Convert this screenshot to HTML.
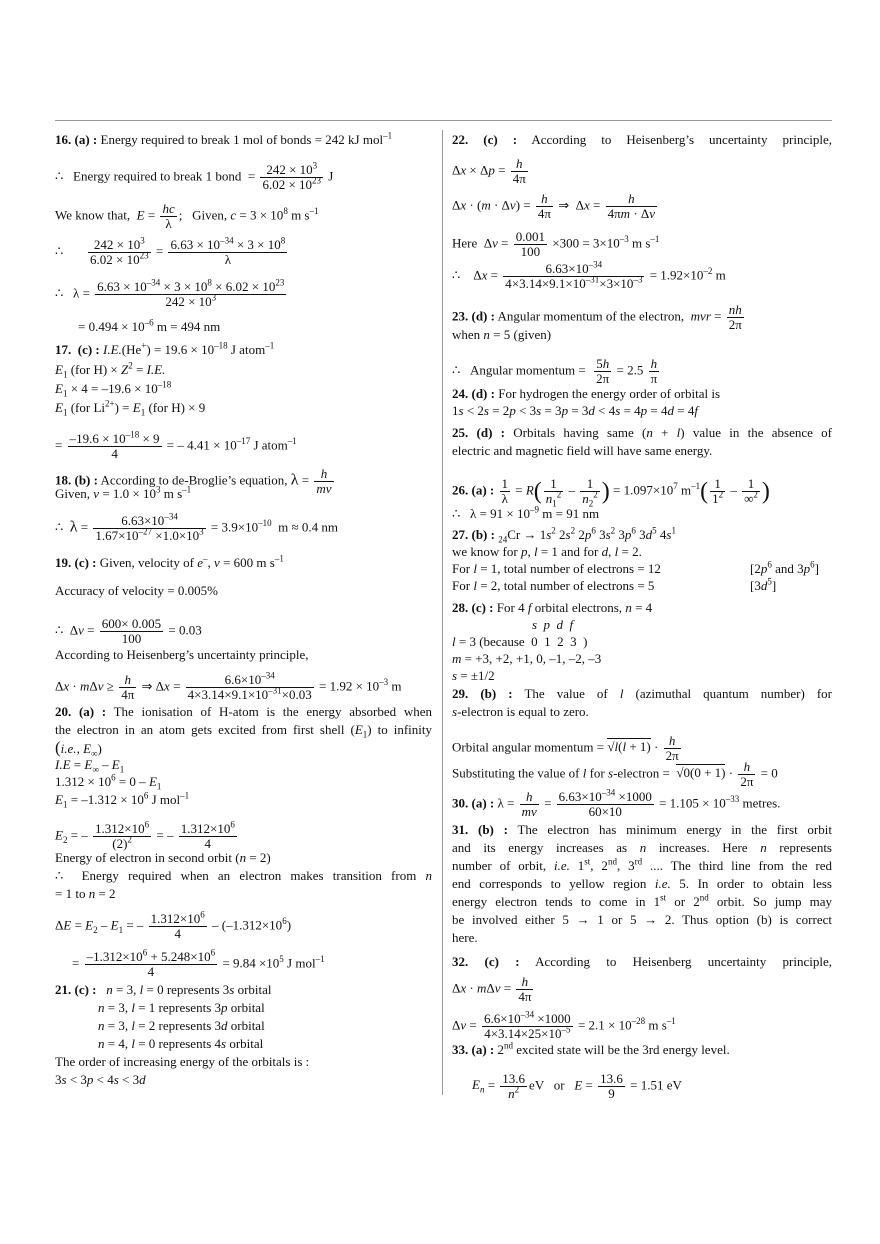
<!DOCTYPE html>
<html><head><meta charset="utf-8">
<style>
body{margin:0;width:880px;height:1244px;background:#fff;position:relative;font-family:"Liberation Serif",serif;font-size:13px;color:#111;overflow:hidden}
.l{position:absolute;white-space:nowrap;line-height:16px}
.j{white-space:normal;text-align:justify;text-align-last:justify}
.f{display:inline-flex;flex-direction:column;vertical-align:middle;text-align:center;margin:0 2px}
.f>span:first-child{border-bottom:1px solid #111;padding:0 2px;line-height:14px}
.f>span:last-child{padding:0 2px;line-height:14px}
sup,sub{font-size:9px;line-height:0}
i{font-style:italic}
b{font-weight:bold}
</style></head><body>
<div style="position:absolute;left:55px;top:120px;width:777px;height:1px;background:#999"></div>
<div style="position:absolute;left:442px;top:130px;width:1px;height:965px;background:#999"></div>

<!-- LEFT -->
<div class="l" style="left:55px;top:132px"><b>16. (a) :</b> Energy required to break 1 mol of bonds = 242 kJ mol<sup>–1</sup></div>
<div class="l" style="left:55px;top:163px">∴ &nbsp;&nbsp;Energy required to break 1 bond &nbsp;= <span class="f"><span>242 × 10<sup>3</sup></span><span>6.02 × 10<sup>23</sup></span></span> J</div>
<div class="l" style="left:55px;top:202px">We know that, &nbsp;<i>E</i> = <span class="f"><span><i>hc</i></span><span>λ</span></span>; &nbsp;&nbsp;Given, <i>c</i> = 3 × 10<sup>8</sup> m s<sup>–1</sup></div>
<div class="l" style="left:55px;top:238px">∴ &nbsp;&nbsp;&nbsp;&nbsp;&nbsp;&nbsp;<span class="f"><span>242 × 10<sup>3</sup></span><span>6.02 × 10<sup>23</sup></span></span> = <span class="f"><span>6.63 × 10<sup>–34</sup> × 3 × 10<sup>8</sup></span><span>λ</span></span></div>
<div class="l" style="left:55px;top:280px">∴ &nbsp;&nbsp;λ = <span class="f"><span>6.63 × 10<sup>–34</sup> × 3 × 10<sup>8</sup> × 6.02 × 10<sup>23</sup></span><span>242 × 10<sup>3</sup></span></span></div>
<div class="l" style="left:78px;top:319px">= 0.494 × 10<sup>–6</sup> m = 494 nm</div>
<div class="l" style="left:55px;top:342px"><b>17. &nbsp;(c) :</b> <i>I.E.</i>(He<sup>+</sup>) = 19.6 × 10<sup>–18</sup> J atom<sup>–1</sup></div>
<div class="l" style="left:55px;top:362px"><i>E</i><sub>1</sub> (for H) × <i>Z</i><sup>2</sup> = <i>I.E.</i></div>
<div class="l" style="left:55px;top:381px"><i>E</i><sub>1</sub> × 4 = –19.6 × 10<sup>–18</sup></div>
<div class="l" style="left:55px;top:400px"><i>E</i><sub>1</sub> (for Li<sup>2+</sup>) = <i>E</i><sub>1</sub> (for H) × 9</div>
<div class="l" style="left:55px;top:432px">= <span class="f"><span>–19.6 × 10<sup>–18</sup> × 9</span><span>4</span></span> = – 4.41 × 10<sup>–17</sup> J atom<sup>–1</sup></div>
<div class="l" style="left:55px;top:467px"><b>18. (b) :</b> According to de-Broglie’s equation, <span style="font-size:16px">λ</span> = <span class="f"><span><i>h</i></span><span><i>mv</i></span></span></div>
<div class="l" style="left:55px;top:486px">Given, <i>v</i> = 1.0 × 10<sup>3</sup> m s<sup>–1</sup></div>
<div class="l" style="left:55px;top:514px">∴ &nbsp;<span style="font-size:16px">λ</span> = <span class="f"><span>6.63×10<sup>–34</sup></span><span>1.67×10<sup>–27</sup> ×1.0×10<sup>3</sup></span></span> = 3.9×10<sup>–10</sup> &nbsp;m ≈ 0.4 nm</div>
<div class="l" style="left:55px;top:555px"><b>19. (c) :</b> Given, velocity of <i>e</i><sup>–</sup>, <i>v</i> = 600 m s<sup>–1</sup></div>
<div class="l" style="left:55px;top:583px">Accuracy of velocity = 0.005%</div>
<div class="l" style="left:55px;top:617px">∴ &nbsp;Δ<i>v</i> = <span class="f"><span>600× 0.005</span><span>100</span></span> = 0.03</div>
<div class="l" style="left:55px;top:647px">According to Heisenberg’s uncertainty principle,</div>
<div class="l" style="left:55px;top:673px">Δ<i>x</i> · <i>m</i>Δ<i>v</i> ≥ <span class="f"><span><i>h</i></span><span>4π</span></span> ⇒ Δ<i>x</i> = <span class="f"><span>6.6×10<sup>–34</sup></span><span>4×3.14×9.1×10<sup>–31</sup>×0.03</span></span> = 1.92 × 10<sup>–3</sup> m</div>
<div class="l j" style="left:55px;top:704px;width:377px"><b>20. (a) :</b> The ionisation of H-atom is the energy absorbed when</div>
<div class="l j" style="left:55px;top:722px;width:377px">the electron in an atom gets excited from first shell (<i>E</i><sub>1</sub>) to infinity</div>
<div class="l" style="left:55px;top:740px"><span style="font-size:17px">(</span><i>i.e.</i>, <i>E</i><sub>∞</sub>)</div>
<div class="l" style="left:55px;top:757px"><i>I.E</i> = <i>E</i><sub>∞</sub> – <i>E</i><sub>1</sub></div>
<div class="l" style="left:55px;top:774px">1.312 × 10<sup>6</sup> = 0 – <i>E</i><sub>1</sub></div>
<div class="l" style="left:55px;top:792px"><i>E</i><sub>1</sub> = –1.312 × 10<sup>6</sup> J mol<sup>–1</sup></div>
<div class="l" style="left:55px;top:822px"><i>E</i><sub>2</sub> = – <span class="f"><span>1.312×10<sup>6</sup></span><span>(2)<sup>2</sup></span></span> = – <span class="f"><span>1.312×10<sup>6</sup></span><span>4</span></span></div>
<div class="l" style="left:55px;top:850px">Energy of electron in second orbit (<i>n</i> = 2)</div>
<div class="l j" style="left:55px;top:868px;width:377px">∴ &nbsp;Energy required when an electron makes transition from <i>n</i></div>
<div class="l" style="left:55px;top:886px">= 1 to <i>n</i> = 2</div>
<div class="l" style="left:55px;top:912px">Δ<i>E</i> = <i>E</i><sub>2</sub> – <i>E</i><sub>1</sub> = – <span class="f"><span>1.312×10<sup>6</sup></span><span>4</span></span> – (–1.312×10<sup>6</sup>)</div>
<div class="l" style="left:72px;top:950px">= <span class="f"><span>–1.312×10<sup>6</sup> + 5.248×10<sup>6</sup></span><span>4</span></span> = 9.84 ×10<sup>5</sup> J mol<sup>–1</sup></div>
<div class="l" style="left:55px;top:982px"><b>21. (c) :</b> &nbsp;&nbsp;<i>n</i> = 3, <i>l</i> = 0 represents 3<i>s</i> orbital</div>
<div class="l" style="left:98px;top:1000px"><i>n</i> = 3, <i>l</i> = 1 represents 3<i>p</i> orbital</div>
<div class="l" style="left:98px;top:1018px"><i>n</i> = 3, <i>l</i> = 2 represents 3<i>d</i> orbital</div>
<div class="l" style="left:98px;top:1036px"><i>n</i> = 4, <i>l</i> = 0 represents 4<i>s</i> orbital</div>
<div class="l" style="left:55px;top:1054px">The order of increasing energy of the orbitals is :</div>
<div class="l" style="left:55px;top:1072px">3<i>s</i> &lt; 3<i>p</i> &lt; 4<i>s</i> &lt; 3<i>d</i></div>

<!-- RIGHT -->
<div class="l j" style="left:452px;top:132px;width:380px"><b>22. (c) :</b> According to Heisenberg’s uncertainty principle,</div>
<div class="l" style="left:452px;top:157px">Δ<i>x</i> × Δ<i>p</i> = <span class="f"><span><i>h</i></span><span>4π</span></span></div>
<div class="l" style="left:452px;top:192px">Δ<i>x</i> · (<i>m</i> · Δ<i>v</i>) = <span class="f"><span><i>h</i></span><span>4π</span></span> ⇒ &nbsp;Δ<i>x</i> = <span class="f"><span><i>h</i></span><span>4π<i>m</i> · Δ<i>v</i></span></span></div>
<div class="l" style="left:452px;top:230px">Here &nbsp;Δ<i>v</i> = <span class="f"><span>0.001</span><span>100</span></span> ×300 = 3×10<sup>–3</sup> m s<sup>–1</sup></div>
<div class="l" style="left:452px;top:262px">∴ &nbsp;&nbsp;&nbsp;Δ<i>x</i> = <span class="f"><span>6.63×10<sup>–34</sup></span><span>4×3.14×9.1×10<sup>–31</sup>×3×10<sup>–3</sup></span></span> = 1.92×10<sup>–2</sup> m</div>
<div class="l" style="left:452px;top:303px"><b>23. (d) :</b> Angular momentum of the electron, &nbsp;<i>mvr</i> = <span class="f"><span><i>nh</i></span><span>2π</span></span></div>
<div class="l" style="left:452px;top:327px">when <i>n</i> = 5 (given)</div>
<div class="l" style="left:452px;top:357px">∴ &nbsp;&nbsp;Angular momentum = &nbsp;<span class="f"><span>5<i>h</i></span><span>2π</span></span> = 2.5 <span class="f"><span><i>h</i></span><span>π</span></span></div>
<div class="l" style="left:452px;top:386px"><b>24. (d) :</b> For hydrogen the energy order of orbital is</div>
<div class="l" style="left:452px;top:403px">1<i>s</i> &lt; 2<i>s</i> = 2<i>p</i> &lt; 3<i>s</i> = 3<i>p</i> = 3<i>d</i> &lt; 4<i>s</i> = 4<i>p</i> = 4<i>d</i> = 4<i>f</i></div>
<div class="l j" style="left:452px;top:425px;width:380px"><b>25. (d) :</b> Orbitals having same (<i>n</i> + <i>l</i>) value in the absence of</div>
<div class="l" style="left:452px;top:443px">electric and magnetic field will have same energy.</div>
<div class="l" style="left:452px;top:477px"><b>26. (a) :</b> <span class="f"><span>1</span><span>λ</span></span> = <i>R</i><span style="font-size:24px;vertical-align:middle">(</span><span class="f"><span>1</span><span><i>n</i><sub>1</sub><sup>2</sup></span></span> – <span class="f"><span>1</span><span><i>n</i><sub>2</sub><sup>2</sup></span></span><span style="font-size:24px;vertical-align:middle">)</span> = 1.097×10<sup>7</sup> m<sup>–1</sup><span style="font-size:24px;vertical-align:middle">(</span><span class="f"><span>1</span><span>1<sup>2</sup></span></span> – <span class="f"><span>1</span><span>∞<sup>2</sup></span></span><span style="font-size:24px;vertical-align:middle">)</span></div>
<div class="l" style="left:452px;top:506px">∴ &nbsp;&nbsp;λ = 91 × 10<sup>–9</sup> m = 91 nm</div>
<div class="l" style="left:452px;top:527px"><b>27. (b) :</b> <sub>24</sub>Cr → 1<i>s</i><sup>2</sup> 2<i>s</i><sup>2</sup> 2<i>p</i><sup>6</sup> 3<i>s</i><sup>2</sup> 3<i>p</i><sup>6</sup> 3<i>d</i><sup>5</sup> 4<i>s</i><sup>1</sup></div>
<div class="l" style="left:452px;top:544px">we know for <i>p</i>, <i>l</i> = 1 and for <i>d</i>, <i>l</i> = 2.</div>
<div class="l" style="left:452px;top:561px">For <i>l</i> = 1, total number of electrons = 12</div>
<div class="l" style="left:750px;top:561px">[2<i>p</i><sup>6</sup> and 3<i>p</i><sup>6</sup>]</div>
<div class="l" style="left:452px;top:578px">For <i>l</i> = 2, total number of electrons = 5</div>
<div class="l" style="left:750px;top:578px">[3<i>d</i><sup>5</sup>]</div>
<div class="l" style="left:452px;top:600px"><b>28. (c) :</b> For 4 <i>f</i> orbital electrons, <i>n</i> = 4</div>
<div class="l" style="left:532px;top:617px"><i>s &nbsp;p &nbsp;d &nbsp;f</i></div>
<div class="l" style="left:452px;top:634px"><i>l</i> = 3 (because &nbsp;0 &nbsp;1 &nbsp;2 &nbsp;3 &nbsp;)</div>
<div class="l" style="left:452px;top:651px"><i>m</i> = +3, +2, +1, 0, –1, –2, –3</div>
<div class="l" style="left:452px;top:668px"><i>s</i> = ±1/2</div>
<div class="l j" style="left:452px;top:686px;width:380px"><b>29. (b) :</b> The value of <i>l</i> (azimuthal quantum number) for</div>
<div class="l" style="left:452px;top:704px"><i>s</i>-electron is equal to zero.</div>
<div class="l" style="left:452px;top:734px">Orbital angular momentum = <span style="border-top:1px solid #111">√</span><span style="border-top:1px solid #111"><i>l</i>(<i>l</i> + 1)</span> · <span class="f"><span><i>h</i></span><span>2π</span></span></div>
<div class="l" style="left:452px;top:760px">Substituting the value of <i>l</i> for <i>s</i>-electron = &nbsp;<span style="border-top:1px solid #111">√0(0 + 1)</span> · <span class="f"><span><i>h</i></span><span>2π</span></span> = 0</div>
<div class="l" style="left:452px;top:790px"><b>30. (a) :</b> λ = <span class="f"><span><i>h</i></span><span><i>mv</i></span></span> = <span class="f"><span>6.63×10<sup>–34</sup> ×1000</span><span>60×10</span></span> = 1.105 × 10<sup>–33</sup> metres.</div>
<div class="l j" style="left:452px;top:822px;width:380px"><b>31. (b) :</b> The electron has minimum energy in the first orbit</div>
<div class="l j" style="left:452px;top:840px;width:380px">and its energy increases as <i>n</i> increases. Here <i>n</i> represents</div>
<div class="l j" style="left:452px;top:858px;width:380px">number of orbit, <i>i.e.</i> 1<sup>st</sup>, 2<sup>nd</sup>, 3<sup>rd</sup> .... The third line from the red</div>
<div class="l j" style="left:452px;top:876px;width:380px">end corresponds to yellow region <i>i.e.</i> 5. In order to obtain less</div>
<div class="l j" style="left:452px;top:894px;width:380px">energy electron tends to come in 1<sup>st</sup> or 2<sup>nd</sup> orbit. So jump may</div>
<div class="l j" style="left:452px;top:912px;width:380px">be involved either 5 → 1 or 5 → 2. Thus option (b) is correct</div>
<div class="l" style="left:452px;top:930px">here.</div>
<div class="l j" style="left:452px;top:954px;width:380px"><b>32. (c) :</b> According to Heisenberg uncertainty principle,</div>
<div class="l" style="left:452px;top:975px">Δ<i>x</i> · <i>m</i>Δ<i>v</i> = <span class="f"><span><i>h</i></span><span>4π</span></span></div>
<div class="l" style="left:452px;top:1012px">Δ<i>v</i> = <span class="f"><span>6.6×10<sup>–34</sup> ×1000</span><span>4×3.14×25×10<sup>–5</sup></span></span> = 2.1 × 10<sup>–28</sup> m s<sup>–1</sup></div>
<div class="l" style="left:452px;top:1042px"><b>33. (a) :</b> 2<sup>nd</sup> excited state will be the 3rd energy level.</div>
<div class="l" style="left:472px;top:1072px"><i>E<sub>n</sub></i> = <span class="f"><span>13.6</span><span><i>n</i><sup>2</sup></span></span>eV &nbsp;&nbsp;or &nbsp;&nbsp;<i>E</i> = <span class="f"><span>13.6</span><span>9</span></span> = 1.51 eV</div>
</body></html>
